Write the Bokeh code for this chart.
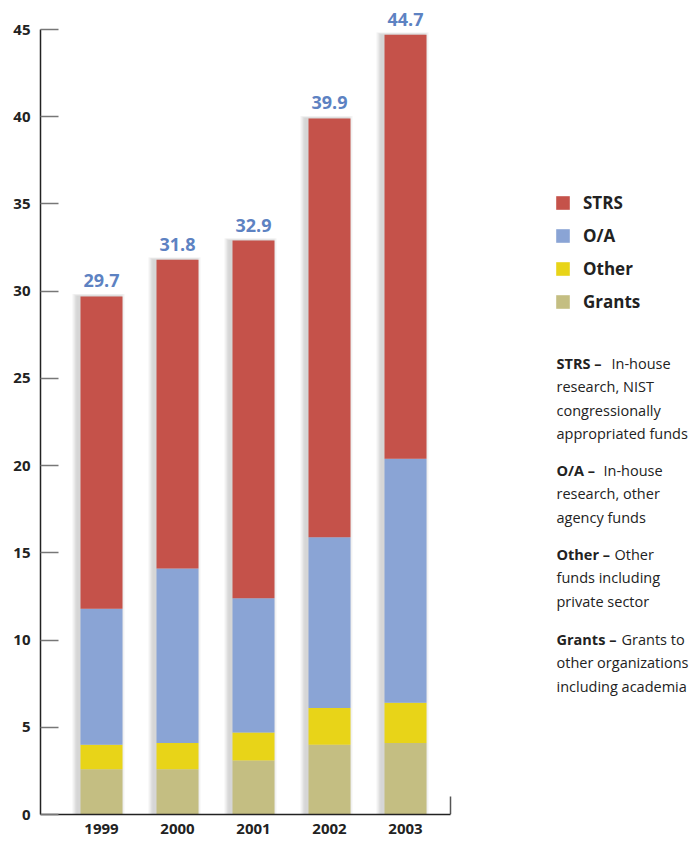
from bokeh.plotting import figure
from bokeh.models import ColumnDataSource, FixedTicker, Legend, LegendItem, Range1d
from bokeh.core.properties import value
from bokeh.embed import file_html
from bokeh.resources import INLINE

# ---------------- data ----------------
years = [1999, 2000, 2001, 2002, 2003]
year_labels = ["1999", "2000", "2001", "2002", "2003"]
grants = [2.6, 2.6, 3.1, 4.0, 4.1]
other = [1.4, 1.5, 1.6, 2.1, 2.3]
oa = [7.8, 10.0, 7.7, 9.8, 14.0]
strs = [17.9, 17.7, 20.5, 24.0, 24.3]
totals = [29.7, 31.8, 32.9, 39.9, 44.7]
total_labels = ["29.7", "31.8", "32.9", "39.9", "44.7"]
y_ticks = [0, 5, 10, 15, 20, 25, 30, 35, 40, 45]
series_names = ["Grants", "Other", "O/A", "STRS"]
series_colors = ["#C4BE82", "#E8D418", "#8AA4D5", "#C5524A"]

desc_heads = ["STRS \u2013", "O/A \u2013", "Other \u2013", "Grants \u2013"]
desc_first = ["In-house", "In-house", "Other", "Grants to"]
desc_rest = [
    ["research, NIST", "congressionally", "appropriated funds"],
    ["research, other", "agency funds"],
    ["funds including", "private sector"],
    ["other organizations", "including academia"],
]

# ---------------- layout ----------------
FONT = "Open Sans"
LEFT, TOP = 40, 8
FRAME_W, FRAME_H = 655, 806
PX_PER_YEAR = 76.0
PX_PER_UNIT = 785.0 / 45.0
x0 = years[0] - 61.0 / PX_PER_YEAR
x1 = x0 + FRAME_W / PX_PER_YEAR
y1 = FRAME_H / PX_PER_UNIT
axis_x_end = years[-1] + 45.0 / PX_PER_YEAR
bar_w = 42.0 / PX_PER_YEAR

def dx(page_x):
    return x0 + (page_x - LEFT) / PX_PER_YEAR

def dy(page_y):
    return (FRAME_H - (page_y - TOP)) / PX_PER_UNIT

p = figure(frame_width=FRAME_W, frame_height=FRAME_H,
           x_range=Range1d(x0, x1), y_range=Range1d(0, y1),
           output_backend="svg", toolbar_location=None,
           min_border_left=LEFT, min_border_right=0, min_border_top=TOP, min_border_bottom=29)
p.outline_line_color = None
p.xgrid.grid_line_color = None
p.ygrid.grid_line_color = None
p.background_fill_color = "white"
p.border_fill_color = "white"

src = ColumnDataSource(dict(x=years, Grants=grants, Other=other, **{"O/A": oa}, STRS=strs,
                            total=totals, total_label=total_labels))

# soft drop shadow behind the bars
for k in range(1, 5):
    p.vbar(x=[yv - 3.0 / PX_PER_YEAR for yv in years], width=bar_w + 2.5 * k / PX_PER_YEAR,
           top=[t + 0.6 * k / PX_PER_UNIT for t in totals], bottom=0,
           fill_color="#606060", fill_alpha=0.07, line_color=None)

renderers = p.vbar_stack(series_names, x="x", width=bar_w, color=series_colors,
                         line_color=None, source=src)

p.text(x="x", y="total", text="total_label", source=src,
       text_align="center", text_baseline="bottom", y_offset=-9,
       text_font=value(FONT), text_font_style="bold", text_font_size="18px",
       text_color="#5D82C2")

# axes
p.yaxis.ticker = FixedTicker(ticks=y_ticks)
p.yaxis.bounds = (0, 45)
p.yaxis.major_tick_in = 18
p.yaxis.major_tick_out = 0
p.yaxis.minor_tick_line_color = None
p.yaxis.major_tick_line_color = "#777777"
p.yaxis.major_tick_line_width = 1.5
p.yaxis.axis_line_color = "#222222"
p.yaxis.axis_line_width = 1.5
p.yaxis.major_label_standoff = 10
p.yaxis.major_label_text_font = FONT
p.yaxis.major_label_text_font_style = "bold"
p.yaxis.major_label_text_font_size = "15px"
p.yaxis.major_label_text_color = "#222222"

p.xaxis.ticker = FixedTicker(ticks=years)
p.xaxis.major_label_overrides = {y: l for y, l in zip(years, year_labels)}
p.xaxis.bounds = (x0, axis_x_end)
p.xaxis.major_tick_in = 0
p.xaxis.major_tick_out = 0
p.xaxis.minor_tick_line_color = None
p.xaxis.axis_line_color = "#222222"
p.xaxis.axis_line_width = 1.5
p.xaxis.major_label_standoff = 9
p.xaxis.major_label_text_font = FONT
p.xaxis.major_label_text_font_style = "bold"
p.xaxis.major_label_text_font_size = "15px"
p.xaxis.major_label_text_color = "#222222"

# small upright tick at the right end of the x axis
p.segment(x0=[axis_x_end], y0=[0], x1=[axis_x_end], y1=[18.0 / PX_PER_UNIT],
          line_color="#555555", line_width=1.5)

# legend
items = [LegendItem(label=n, renderers=[r]) for n, r in zip(series_names, renderers)][::-1]
legend = Legend(items=items, location=(514, 501),
                glyph_width=17, glyph_height=17, label_height=17, spacing=10,
                label_standoff=12, padding=0, margin=0,
                border_line_alpha=0, background_fill_alpha=0,
                label_text_font=FONT, label_text_font_style="bold",
                label_text_font_size="17px", label_text_color="#222222")
p.add_layout(legend)

# description text
para_first = [363, 470, 554, 639]  # page y of first line centres
line_h = 23.3
head_off = [55, 47, 58, 65]
tx = dx(556)
hx, hy, hs = [], [], []
nx, ny, ns, noff = [], [], [], []
for i in range(4):
    y_first = dy(para_first[i])
    hx.append(tx); hy.append(y_first); hs.append(desc_heads[i])
    nx.append(tx); ny.append(y_first); ns.append(desc_first[i]); noff.append(head_off[i])
    for j, line in enumerate(desc_rest[i]):
        nx.append(tx); ny.append(dy(para_first[i] + (j + 1) * line_h)); ns.append(line); noff.append(0)

p.text(x=hx, y=hy, text=hs, text_align="left", text_baseline="middle",
       text_font=value(FONT), text_font_style="bold", text_font_size="14.5px", text_color="#222222")
p.text(x=nx, y=ny, text=ns, x_offset=noff, text_align="left", text_baseline="middle",
       text_font=value(FONT), text_font_size="14.5px", text_color="#222222")

open("out.html", "w").write(file_html(p, INLINE))
